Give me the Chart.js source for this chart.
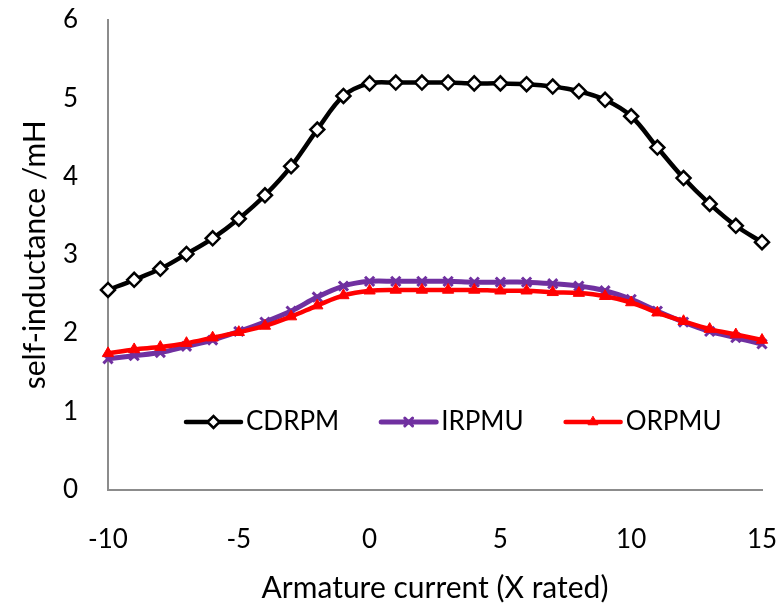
<!DOCTYPE html>
<html>
<head>
<meta charset="utf-8">
<script src="https://cdn.jsdelivr.net/npm/chart.js@4/dist/chart.umd.min.js"></script>
<style>
  html, body { margin: 0; padding: 0; background: #fff; }
  #wrap { width: 778px; height: 606px; }
</style>
</head>
<body>
<div id="wrap"><canvas id="c" width="778" height="606"></canvas></div>
<script>
const xValues = [-10, -9, -8, -7, -6, -5, -4, -3, -2, -1, 0, 1, 2, 3, 4, 5, 6, 7, 8, 9, 10, 11, 12, 13, 14, 15];
const cdrpm = [2.55, 2.68, 2.82, 3.01, 3.21, 3.46, 3.76, 4.13, 4.60, 5.03, 5.19, 5.20, 5.20, 5.20, 5.19, 5.19, 5.18, 5.15, 5.09, 4.98, 4.77, 4.37, 3.98, 3.65, 3.37, 3.16];
const irpmu = [1.67, 1.71, 1.75, 1.83, 1.91, 2.02, 2.14, 2.28, 2.46, 2.60, 2.66, 2.66, 2.66, 2.66, 2.65, 2.65, 2.65, 2.63, 2.60, 2.54, 2.43, 2.28, 2.14, 2.02, 1.94, 1.86];
const orpmu = [1.74, 1.79, 1.82, 1.87, 1.94, 2.01, 2.09, 2.21, 2.35, 2.48, 2.54, 2.55, 2.55, 2.55, 2.55, 2.54, 2.54, 2.52, 2.51, 2.47, 2.39, 2.26, 2.15, 2.05, 1.98, 1.91];
const seriesNames = ['CDRPM', 'IRPMU', 'ORPMU'];
const xTitle = 'Armature current (X rated)';
const yTitle = 'self-inductance /mH';

const FONT = 'Lato';
const toPts = (ys) => xValues.map((x, i) => ({ x: x, y: ys[i] }));

const insideLegend = {
  id: 'insideLegend',
  afterDraw(chart) {
    const ctx = chart.ctx;
    const y = 422;
    let x = 186;
    const lineLen = 55;
    ctx.save();
    ctx.font = '26px ' + FONT;
    ctx.textBaseline = 'middle';
    ctx.textAlign = 'left';
    chart.data.datasets.forEach((ds) => {
      ctx.strokeStyle = ds.borderColor;
      ctx.lineWidth = ds.borderWidth;
      ctx.lineCap = 'round';
      ctx.beginPath();
      ctx.moveTo(x, y);
      ctx.lineTo(x + lineLen, y);
      ctx.stroke();
      ctx.fillStyle = ds.pointBackgroundColor;
      ctx.strokeStyle = ds.pointBorderColor;
      ctx.lineWidth = ds.pointBorderWidth;
      Chart.helpers.drawPoint(ctx, {
        pointStyle: ds.pointStyle,
        radius: ds.pointRadius - 1,
        rotation: 0,
        borderWidth: ds.pointBorderWidth
      }, x + lineLen / 2, y);
      ctx.fillStyle = '#000';
      ctx.fillText(ds.label, x + lineLen + 5, y);
      const w = ctx.measureText(ds.label).width;
      x += lineLen + 5 + w + 42;
    });
    ctx.restore();
  }
};

new Chart(document.getElementById('c'), {
  type: 'line',
  data: {
    datasets: [
      {
        label: seriesNames[0],
        data: toPts(cdrpm),
        borderColor: '#000000',
        borderWidth: 4.5,
        pointStyle: 'rectRot',
        pointRadius: 7,
        pointBackgroundColor: '#ffffff',
        pointBorderColor: '#000000',
        pointBorderWidth: 2.5,
        tension: 0.35,
        clip: false,
        order: 2
      },
      {
        label: seriesNames[1],
        data: toPts(irpmu),
        borderColor: '#7030A0',
        borderWidth: 5,
        pointStyle: 'crossRot',
        pointRadius: 6.5,
        pointBackgroundColor: '#7030A0',
        pointBorderColor: '#7030A0',
        pointBorderWidth: 3,
        tension: 0.35,
        clip: false,
        order: 1
      },
      {
        label: seriesNames[2],
        data: toPts(orpmu),
        borderColor: '#FF0000',
        borderWidth: 4.5,
        pointStyle: 'triangle',
        pointRadius: 6.5,
        pointBackgroundColor: '#FF0000',
        pointBorderColor: '#FF0000',
        pointBorderWidth: 1,
        tension: 0.35,
        clip: false,
        order: 0
      }
    ]
  },
  options: {
    responsive: false,
    animation: false,
    events: [],
    layout: { padding: { top: 20, right: 16, left: 0, bottom: 0 } },
    plugins: {
      legend: { display: false },
      tooltip: { enabled: false }
    },
    scales: {
      x: {
        type: 'linear',
        min: -10,
        max: 15,
        afterFit(scale) {
          scale.height = 116.5;
          scale.paddingLeft = 0;
          scale.paddingRight = 0;
        },
        grid: { display: false, drawTicks: false },
        border: { display: true, color: '#8c8c8c', width: 2 },
        ticks: {
          stepSize: 5,
          padding: 35,
          color: '#000',
          font: { family: FONT, size: 26, lineHeight: 1.2 },
          maxRotation: 0
        },
        title: {
          display: true,
          text: xTitle,
          color: '#000',
          font: { family: FONT, size: 30, lineHeight: 1.2 },
          padding: { top: 0, bottom: 0 }
        }
      },
      y: {
        min: 0,
        max: 6,
        afterFit(scale) {
          scale.width = 108;
          scale.paddingTop = 0;
          scale.paddingBottom = 0;
        },
        grid: { display: false, drawTicks: false },
        border: { display: true, color: '#8c8c8c', width: 2 },
        ticks: {
          stepSize: 1,
          padding: 30,
          color: '#000',
          font: { family: FONT, size: 26, lineHeight: 1.2 }
        },
        title: {
          display: true,
          text: yTitle,
          color: '#000',
          font: { family: FONT, size: 30, lineHeight: 1.2 },
          padding: { top: 17, bottom: 0 }
        }
      }
    }
  },
  plugins: [insideLegend]
});
</script>
</body>
</html>
